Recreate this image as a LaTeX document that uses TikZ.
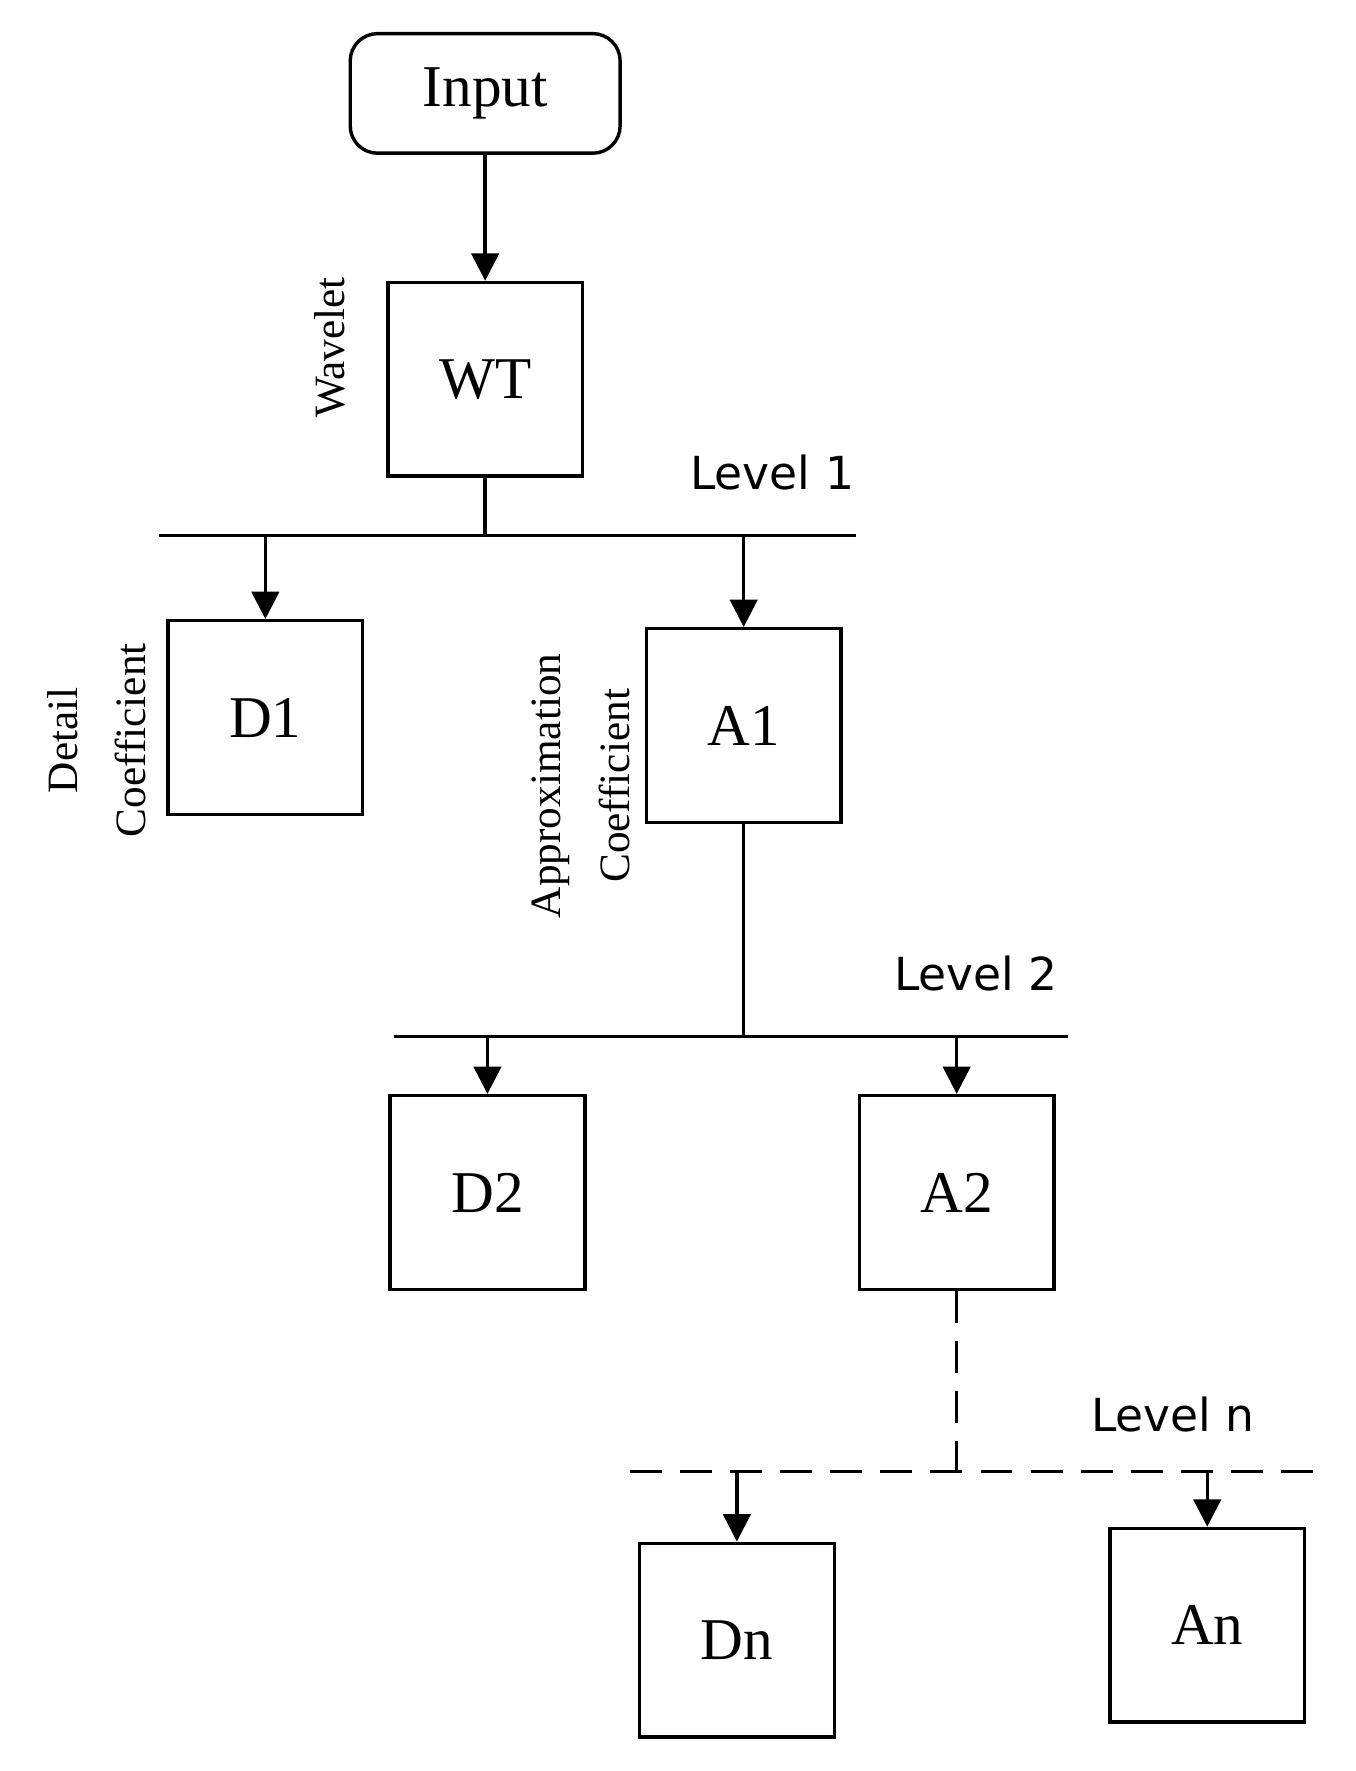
\documentclass[tikz,border=0pt]{standalone}
\usepackage{fontspec}
\setmainfont{Liberation Serif}
\newfontfamily\lvl{DejaVu Sans}
\usetikzlibrary{arrows.meta}
\begin{document}
\begin{tikzpicture}[x=0.5pt,y=-0.5pt,line width=1.5pt,
  box/.style={draw,minimum width=85.5pt,minimum height=85pt,inner sep=0pt,font=\fontsize{26}{28}\selectfont},
  arr/.style={-{Triangle[width=12pt,length=12pt]}},
  lv/.style={font=\lvl\fontsize{20}{22}\selectfont},
  rot/.style={rotate=90,align=center,font=\fontsize{19}{30}\selectfont}]
\useasboundingbox (0,0) rectangle (1190,1555);
\node[draw,rounded corners=12pt,minimum width=118.5pt,minimum height=52.5pt,inner sep=0pt,font=\fontsize{26}{28}\selectfont] (in) at (426,82) {Input};
\node[box] (wt) at (426,333) {WT};
\node[box] (d1) at (233,630) {D1};
\node[box] (a1) at (653,637) {A1};
\node[box] (d2) at (428,1047) {D2};
\node[box] (a2) at (840,1047) {A2};
\node[box] (dn) at (647,1440) {Dn};
\node[box] (an) at (1060,1427) {An};
\coordinate (l1a) at (140,470); \coordinate (l1b) at (752,470);
\coordinate (l2a) at (346,910); \coordinate (l2b) at (938,910);
\coordinate (lna) at (553,1292); \coordinate (lnb) at (1160,1292);
\draw[arr] (in) -- (wt);
\draw (l1a) -- (l1b);
\draw (wt) -- (wt |- l1a);
\draw[arr] (d1 |- l1a) -- (d1);
\draw[arr] (a1 |- l1a) -- (a1);
\draw (l2a) -- (l2b);
\draw (a1) -- (a1 |- l2a);
\draw[arr] (d2 |- l2a) -- (d2);
\draw[arr] (a2 |- l2a) -- (a2);
\draw[dashed,dash pattern=on 14pt off 8pt] (lna) -- (lnb);
\draw[dashed,dash pattern=on 14pt off 8pt] (a2) -- (a2 |- lna);
\draw[arr] (dn |- lna) -- (dn);
\draw[arr] (an |- lna) -- (an);
\node[lv] (t1) at (678,415) {Level 1};
\node[lv] (t2) at (857,855) {Level 2};
\node[lv] (tn) at (1030,1242) {Level n};
\node[rot] (tw) at (290,305) {Wavelet};
\node[rot] (td) at (85,650) {Detail\\Coefficient};
\node[rot] (ta) at (510,690) {Approximation\\Coefficient};
\end{tikzpicture}
\end{document}
